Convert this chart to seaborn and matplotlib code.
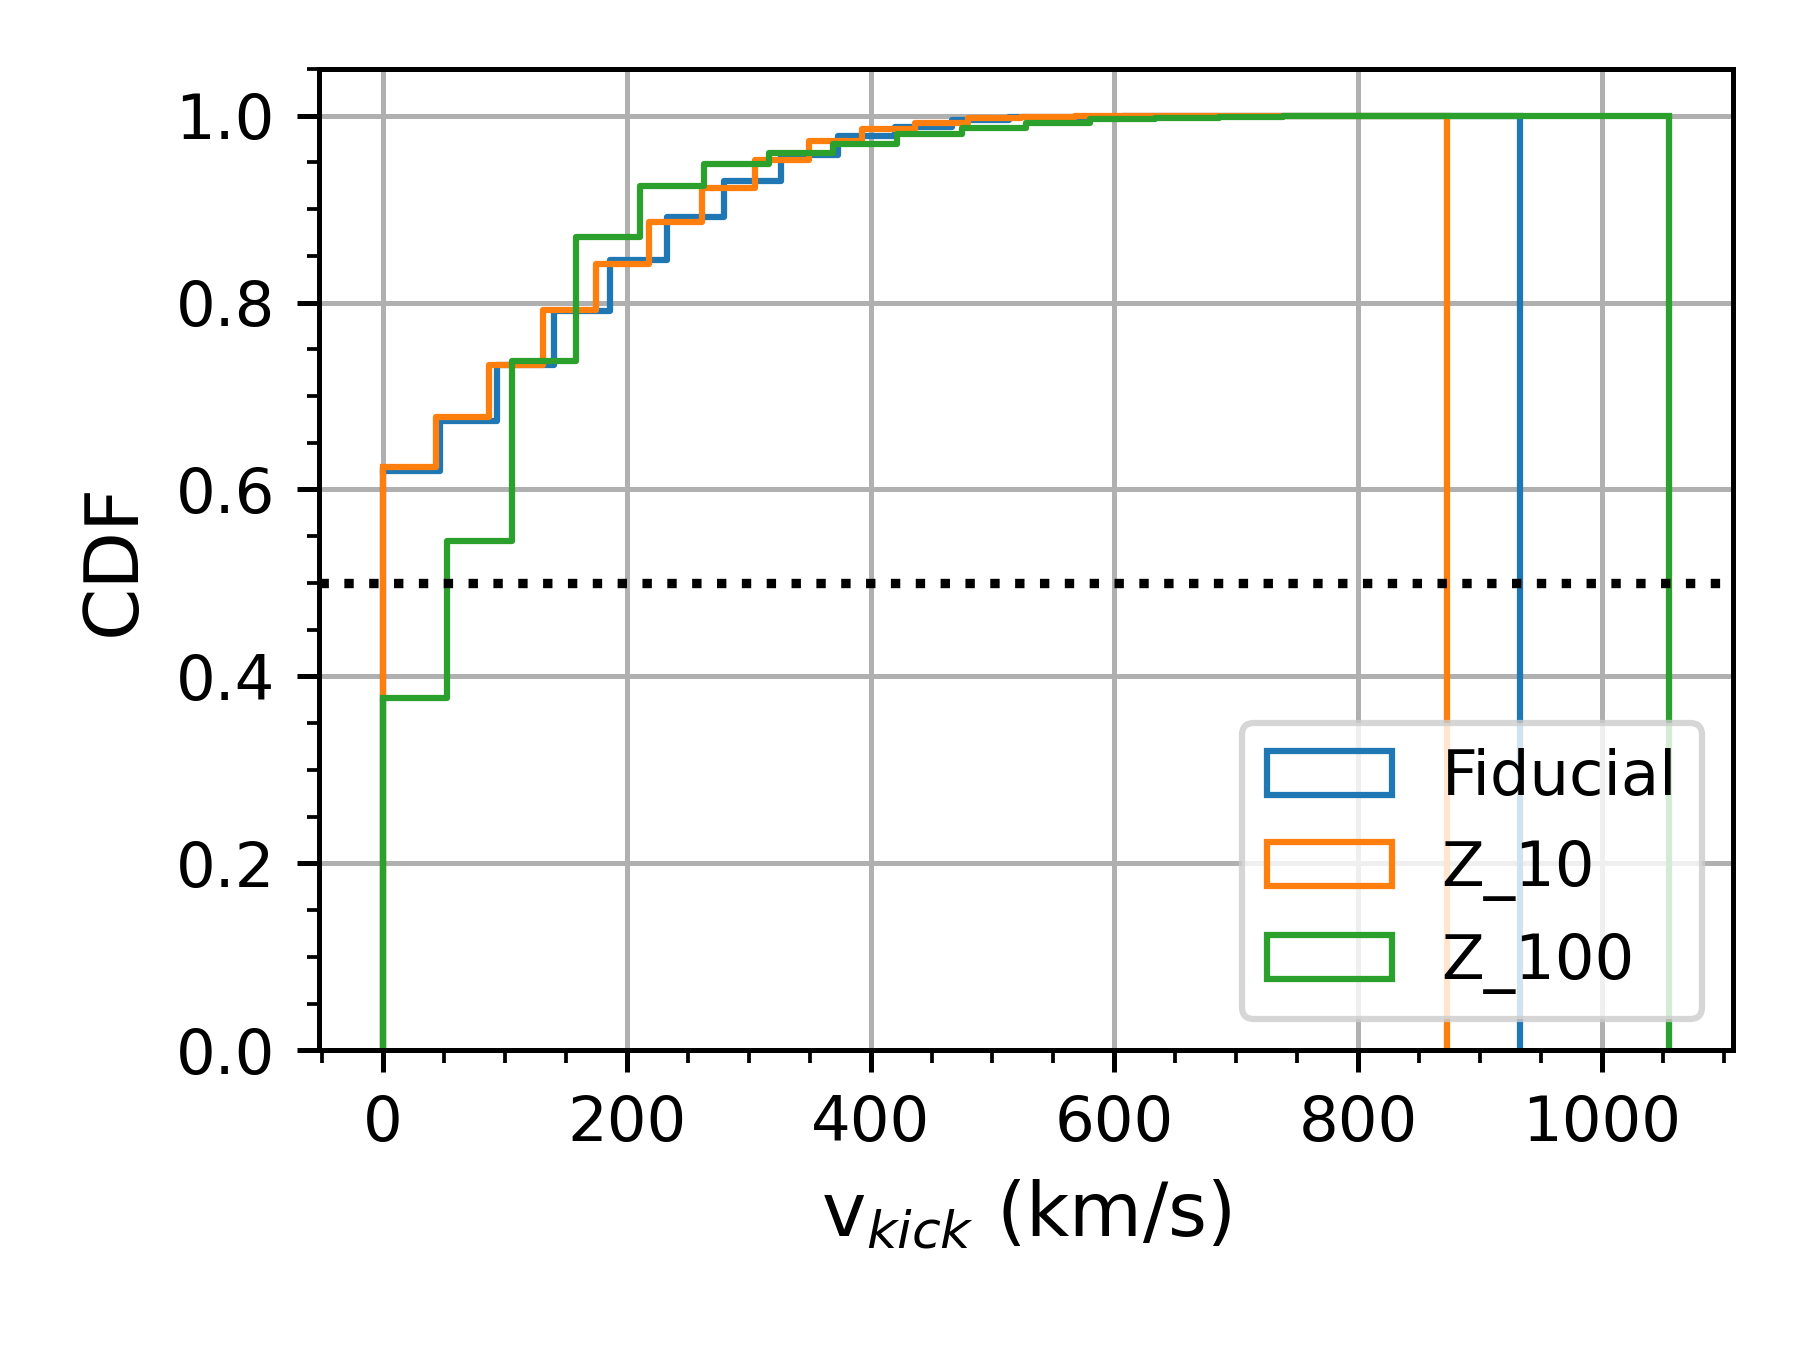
import numpy as np
import pandas as pd
import matplotlib
matplotlib.use("Agg")
import matplotlib.pyplot as plt
from matplotlib.patches import Patch
import seaborn as sns

# bin layout: 20 equal bins from 0 to the largest kick of each model
n_bins = 20
labels = ["Fiducial", "Z_10", "Z_100"]
v_max = [933, 873, 1055]  # km/s

# cumulative fraction at the right edge of each bin
cdf_fiducial = [0.620, 0.673, 0.733, 0.791, 0.845, 0.892, 0.930, 0.958, 0.978, 0.988,
                0.995, 0.998, 0.999, 0.9993, 0.9996, 0.9998, 0.9999, 0.9999, 0.9999, 1.0]
cdf_z10 = [0.624, 0.677, 0.733, 0.792, 0.841, 0.886, 0.923, 0.952, 0.973, 0.986,
           0.992, 0.997, 0.999, 0.9995, 0.9997, 0.9998, 0.9999, 0.9999, 0.9999, 1.0]
cdf_z100 = [0.377, 0.545, 0.737, 0.870, 0.925, 0.948, 0.960, 0.970, 0.980, 0.987,
            0.992, 0.996, 0.9975, 0.999, 0.9995, 0.9997, 0.9999, 0.9999, 0.9999, 1.0]


def main():
    colors = sns.color_palette("tab10", 3)
    fig, ax = plt.subplots(figsize=(4, 3), dpi=450)

    for label, vmax, cdf, col in zip(labels, v_max, [cdf_fiducial, cdf_z10, cdf_z100], colors):
        edges = np.linspace(0, vmax, n_bins + 1)
        df = pd.DataFrame({
            "v": edges[:-1] + 0.5 * (edges[1] - edges[0]),
            "w": np.diff(np.concatenate([[0.0], cdf])),  # per-bin fraction
        })
        sns.histplot(data=df, x="v", weights="w", bins=list(edges), cumulative=True,
                     element="step", fill=False, stat="count", color=col,
                     linewidth=1, ax=ax)
        # close the step outline down to zero, like plt.hist(histtype='step')
        ax.vlines([edges[0], edges[-1]], 0, [cdf[0], cdf[-1]], color=col, linewidth=1)

    ax.axhline(0.5, color="k", linestyle=":", linewidth=1.5)

    ax.set_xlim(-52.75, 1107.75)
    ax.set_ylim(0, 1.05)
    ax.minorticks_on()
    ax.grid(True, which="major")
    ax.set_xlabel("v$_{kick}$ (km/s)", fontsize=12)
    ax.set_ylabel("CDF", fontsize=12)

    handles = [Patch(facecolor="none", edgecolor=c, linewidth=1) for c in colors]
    ax.legend(handles, labels, loc="lower right")

    plt.subplots_adjust(left=0.177, right=0.963, top=0.949, bottom=0.222)
    plt.savefig("out.png", dpi=450)


if __name__ == "__main__":
    main()
